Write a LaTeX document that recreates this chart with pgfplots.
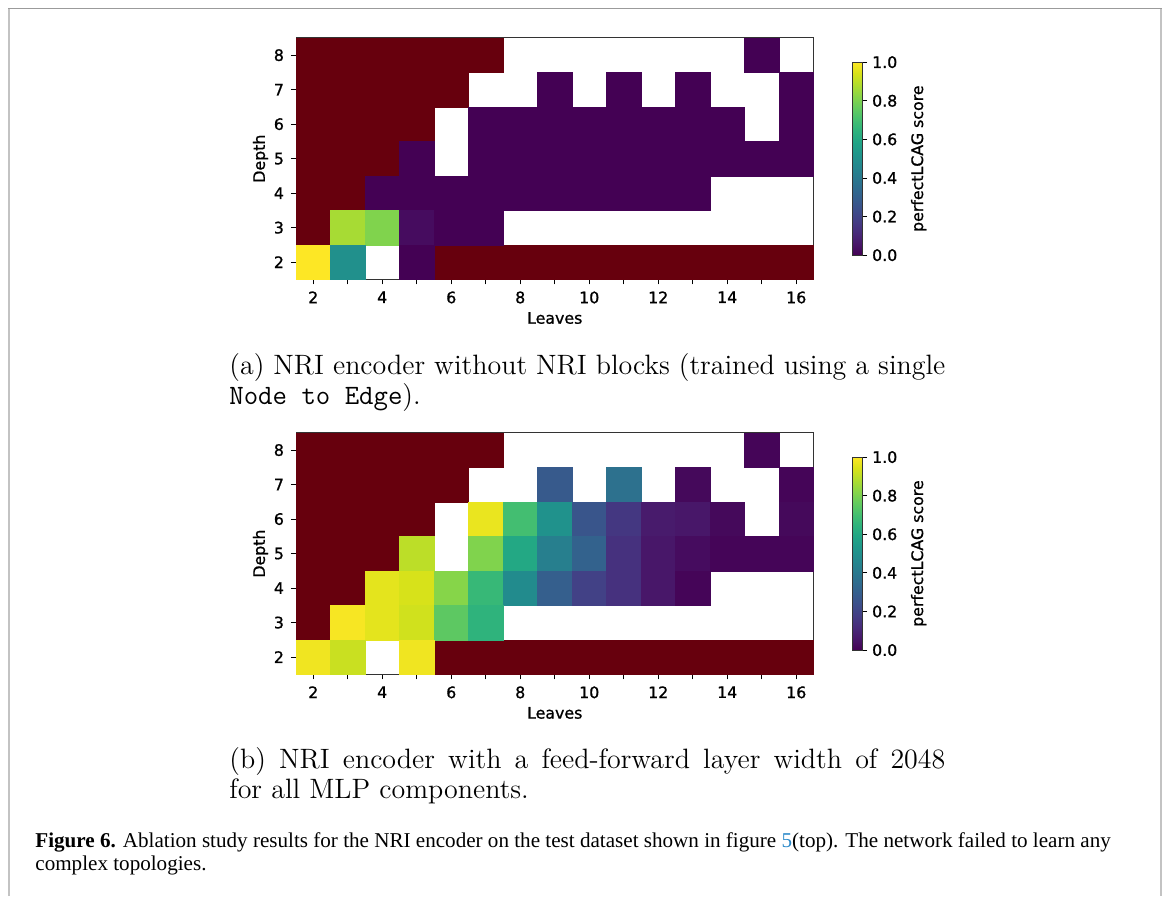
\documentclass[border=0pt]{standalone}
\usepackage{fontspec}
\usepackage{pgfplots}
\pgfplotsset{compat=1.18}
\newfontfamily\dejavu[FakeBold=1]{DejaVu Sans}
\newfontfamily\capfont{Liberation Serif}
\definecolor{dred}{RGB}{103,0,13}
\definecolor{linkblue}{RGB}{40,135,200}
\definecolor{boxgray}{RGB}{195,195,195}
\definecolor{boxtop}{RGB}{155,155,155}
\newcommand{\tickfont}{\dejavu\fontsize{7.9}{9.5}\selectfont}
\newcommand{\capA}{\fontsize{14}{16}\selectfont}
\pgfplotsset{
  hm/.style={
    scale only axis, width=258.75pt, height=120.75pt,
    xmin=1.5, xmax=16.5, ymin=1.5, ymax=8.5,
    xtick={2,4,6,8,10,12,14,16}, minor xtick={3,5,7,9,11,13,15},
    ytick={2,3,4,5,6,7,8},
    tick align=outside, tick pos=left,
    major tick length=2.5pt, minor tick length=2.5pt,
    every tick/.style={black, line width=0.4pt},
    every minor tick/.style={black, line width=0.4pt},
    axis line style={line width=0.5pt, black!80},
    xlabel={Leaves}, ylabel={Depth},
    ticklabel style={font=\tickfont},
    label style={font=\tickfont},
    xlabel style={yshift=2.5pt},
    ylabel style={yshift=-4pt},
    /pgf/number format/assume math mode=true,
    colormap/viridis,
    point meta min=0, point meta max=1,
    colorbar,
    colorbar style={
      at={(parent axis.east)}, anchor=west, xshift=10.75pt,
      width=5pt, height=96.5pt,
      ytick={0,0.2,0.4,0.6,0.8,1}, xtick=\empty,
      yticklabel style={font=\tickfont, xshift=-1pt, /pgf/number format/.cd, fixed, fixed zerofill, precision=1},
      /pgf/number format/assume math mode=true,
      ylabel={\tickfont perfectLCAG score},
      every axis y label/.append style={font=\tickfont, yshift=3pt},
      yticklabel pos=right, ylabel near ticks,
      tick align=outside, ytick pos=right,
      major tick length=2.5pt,
      every tick/.style={black, line width=0.4pt},
      axis line style={line width=0.4pt, black!80},
    },
  },
  dcell/.style={only marks, mark=square*, mark size=8.625pt,
    mark options={draw=dred, fill=dred, line width=0.2pt}},
  vcell/.style={scatter, only marks, mark=square*, mark size=8.625pt,
    point meta=explicit,
    scatter/use mapped color={draw=mapped color, fill=mapped color, line width=0.2pt}},
}
\pgfplotstableread{
x y
2 8
3 8
4 8
5 8
6 8
7 8
2 7
3 7
4 7
5 7
6 7
2 6
3 6
4 6
5 6
2 5
3 5
4 5
2 4
3 4
2 3
6 2
7 2
8 2
9 2
10 2
11 2
12 2
13 2
14 2
15 2
16 2
}\invalidcells
\pgfplotstableread{
x y c
15 8 0
9 7 0
11 7 0
13 7 0
16 7 0
7 6 0
8 6 0
9 6 0
10 6 0
11 6 0
12 6 0
13 6 0
14 6 0
16 6 0
5 5 0
7 5 0
8 5 0
9 5 0
10 5 0
11 5 0
12 5 0
13 5 0
14 5 0
15 5 0
16 5 0
4 4 0
5 4 0
6 4 0
7 4 0
8 4 0
9 4 0
10 4 0
11 4 0
12 4 0
13 4 0
3 3 0.87
4 3 0.81
5 3 0.03
6 3 0
7 3 0
2 2 1.0
3 2 0.5
5 2 0
}\scoresA
\pgfplotstableread{
x y c
15 8 0.01
9 7 0.28
11 7 0.37
13 7 0.02
16 7 0.01
7 6 0.97
8 6 0.70
9 6 0.51
10 6 0.26
11 6 0.16
12 6 0.07
13 6 0.06
14 6 0.02
16 6 0.02
5 5 0.90
7 5 0.81
8 5 0.60
9 5 0.43
10 5 0.31
11 5 0.14
12 5 0.06
13 5 0.03
14 5 0.01
15 5 0.01
16 5 0.01
4 4 0.96
5 4 0.94
6 4 0.82
7 4 0.67
8 4 0.48
9 4 0.30
10 4 0.19
11 4 0.14
12 4 0.06
13 4 0.01
3 3 0.99
4 3 0.96
5 3 0.93
6 3 0.75
7 3 0.65
2 2 0.98
3 2 0.92
5 2 0.98
}\scoresB
\begin{document}
\begin{tikzpicture}
\path[use as bounding box] (0pt,0pt) rectangle (584pt,-448pt);
\draw[boxgray, line width=0.8pt] (4.5pt,-448pt) -- (4.5pt,-4.25pt);
\draw[boxgray, line width=0.8pt] (580.5pt,-4.25pt) -- (580.5pt,-448pt);
\draw[boxtop, line width=0.8pt] (4.1pt,-4.25pt) -- (580.9pt,-4.25pt);

\begin{axis}[hm, at={(148pt,-139.7pt)}, anchor=south west]
\addplot[dcell] table[x=x, y=y] {\invalidcells};
\addplot[vcell] table[x=x, y=y, meta=c] {\scoresA};
\end{axis}

\node[anchor=base west, inner sep=0pt, font=\capA] at (114.5pt,-187pt) {\makebox[358pt][s]{(a) NRI encoder without NRI blocks (trained using a single}};
\node[anchor=base west, inner sep=0pt, font=\capA] at (114.5pt,-202pt) {\texttt{Node to Edge}).};

\begin{axis}[hm, at={(148pt,-337.15pt)}, anchor=south west]
\addplot[dcell] table[x=x, y=y] {\invalidcells};
\addplot[vcell] table[x=x, y=y, meta=c] {\scoresB};
\end{axis}

\node[anchor=base west, inner sep=0pt, font=\capA] at (114.5pt,-384pt) {\makebox[358pt][s]{(b) NRI encoder with a feed-forward layer width of 2048}};
\node[anchor=base west, inner sep=0pt, font=\capA] at (114.5pt,-399pt) {for all MLP components.};

\node[anchor=base west, inner sep=0pt, font=\capfont\fontsize{10.55}{13}\selectfont] at (17.5pt,-423.5pt) {\textbf{Figure 6.} Ablation study results for the NRI encoder on the test dataset shown in figure \textcolor{linkblue}{5}(top). The network failed to learn any};
\node[anchor=base west, inner sep=0pt, font=\capfont\fontsize{10.55}{13}\selectfont] at (17.5pt,-435pt) {complex topologies.};
\end{tikzpicture}
\end{document}
